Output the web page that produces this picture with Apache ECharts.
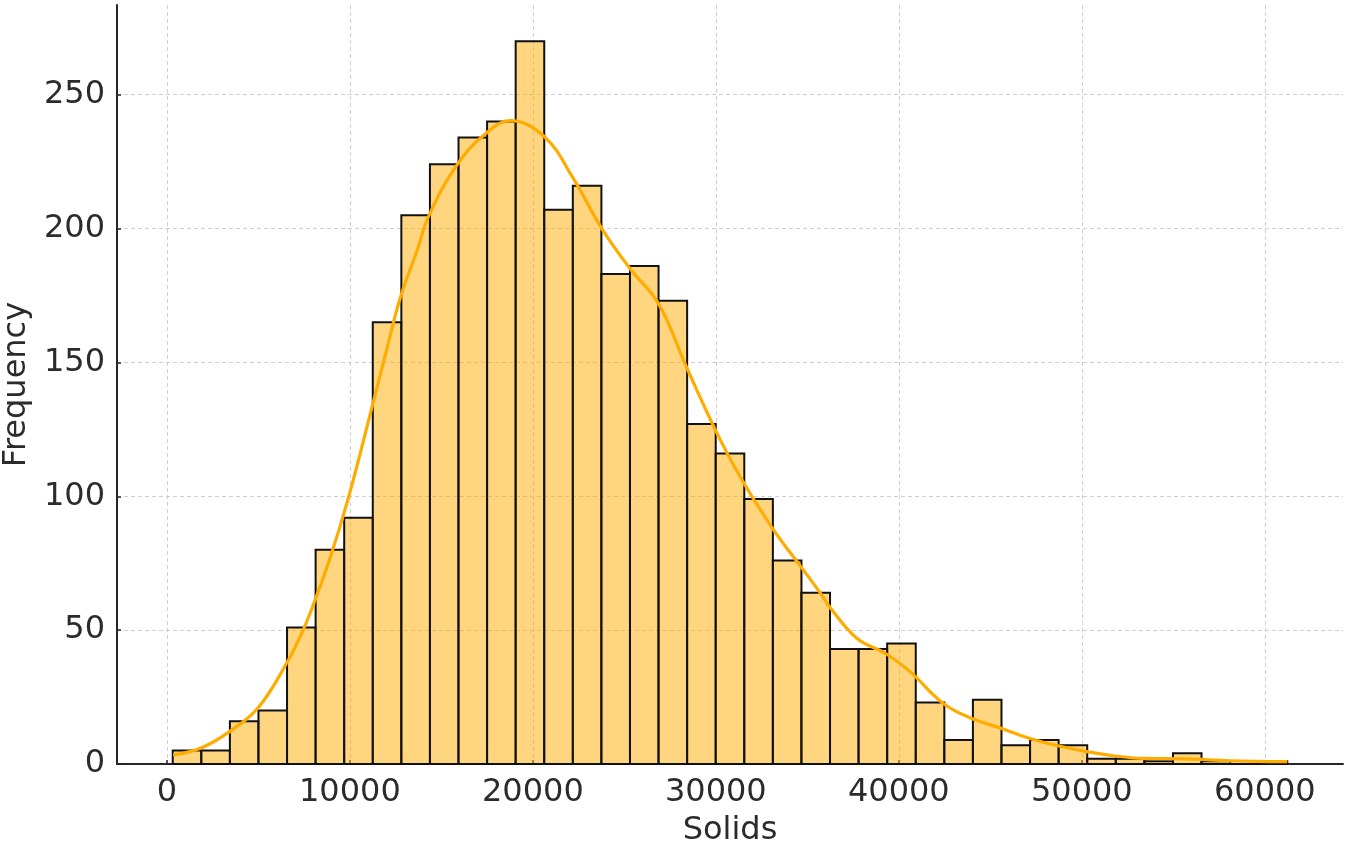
<!DOCTYPE html>
<html>
<head>
<meta charset="utf-8">
<script src="https://cdn.jsdelivr.net/npm/echarts@6/dist/echarts.min.js"></script>
<style>
html,body{margin:0;padding:0;background:#fff;}
#chart{width:1347px;height:845px;}
</style>
</head>
<body>
<div id="chart"></div>
<script>
// Histogram of "Solids": 39 equal-width bins between the data min and max
const solidsMin = 320.94;
const solidsMax = 61227.2;
const binCounts = [5,5,16,20,51,80,92,165,205,224,234,240,270,207,216,183,186,173,127,116,99,76,64,43,43,45,23,9,24,7,9,7,2,2,1,4,1,0,1];

// KDE curve (x in Solids units, y in frequency units)
const kdeX = [344,1874,3404,4989,6573,7377,7923,8923,9923,11201,12021,12748,13660,14332,15878,17447,18758,20632,22184,23769,25315,26861,28413,29959,31325,33057,34603,35696,36243,37702,39341,40613,42434,43986,45624,47116,48700,50269,51815,53345,55733,58099,61227];
const kdeY = [3.4,6,12,21,38,49,58,77,99.5,133,155,174,191.5,205,224,235.6,240.3,234.3,219,200,185,172,148,125,107.3,88.4,74.1,64,58.5,47,41,34.5,22.6,17,13.3,9.6,6.8,4.6,3,2.1,1.9,1.2,0.9];

const xTicks = [0,10000,20000,30000,40000,50000,60000];
const yTicks = [0,50,100,150,200,250];

const binWidth = (solidsMax - solidsMin) / binCounts.length;
const barData = binCounts.map((c, i) => [solidsMin + i * binWidth, solidsMin + (i + 1) * binWidth, c]);
const lineData = kdeX.map((x, i) => [x, kdeY[i]]);

const span = solidsMax - solidsMin;
const xMin = solidsMin - span * 0.05;
const xMax = solidsMax + span * 0.05;
const yMax = Math.max(...binCounts) * 1.05;

const textColor = '#2b2b2b';
const gridLine = {show: true, lineStyle: {color: '#cfcfcf', width: 1, type: [4, 3]}};

const chart = echarts.init(document.getElementById('chart'), null, {renderer: 'canvas'});
chart.setOption({
  animation: false,
  backgroundColor: '#ffffff',
  grid: {left: 117, right: 4, top: 5, bottom: 81, containLabel: false, outerBoundsMode: 'none'},
  xAxis: {
    type: 'value',
    min: xMin,
    max: xMax,
    name: 'Solids',
    nameLocation: 'middle',
    nameGap: 51,
    nameTextStyle: {fontFamily: 'DejaVu Sans', fontSize: 32, color: textColor},
    axisLine: {show: true, lineStyle: {color: '#262626', width: 2}},
    axisTick: {show: true, inside: true, length: 4, customValues: xTicks, lineStyle: {color: '#262626', width: 1.5}},
    axisLabel: {customValues: xTicks, formatter: v => String(v), fontFamily: 'DejaVu Sans', fontSize: 32, color: textColor, margin: 13},
    splitLine: gridLine
  },
  yAxis: {
    type: 'value',
    min: 0,
    max: yMax,
    name: 'Frequency',
    nameLocation: 'middle',
    nameGap: 84,
    nameRotate: 90,
    nameTextStyle: {fontFamily: 'DejaVu Sans', fontSize: 32, color: textColor},
    axisLine: {show: true, onZero: false, lineStyle: {color: '#262626', width: 2}},
    axisTick: {show: true, inside: true, length: 4, customValues: yTicks, lineStyle: {color: '#262626', width: 1.5}},
    axisLabel: {customValues: yTicks, formatter: v => String(v), fontFamily: 'DejaVu Sans', fontSize: 32, color: textColor, margin: 12},
    splitLine: gridLine
  },
  series: [
    {
      type: 'custom',
      data: barData,
      encode: {x: [0, 1], y: 2},
      renderItem: function (params, api) {
        const p0 = api.coord([api.value(0), api.value(2)]);
        const p1 = api.coord([api.value(1), 0]);
        return {
          type: 'rect',
          shape: {x: p0[0], y: p0[1], width: p1[0] - p0[0], height: p1[1] - p0[1]},
          style: {fill: 'rgba(255,172,0,0.5)', stroke: '#111111', lineWidth: 2}
        };
      },
      z: 2
    },
    {
      type: 'line',
      data: lineData,
      smooth: 0.4,
      showSymbol: false,
      lineStyle: {color: '#FFAC00', width: 3.2},
      z: 3
    }
  ]
});
</script>
</body>
</html>
